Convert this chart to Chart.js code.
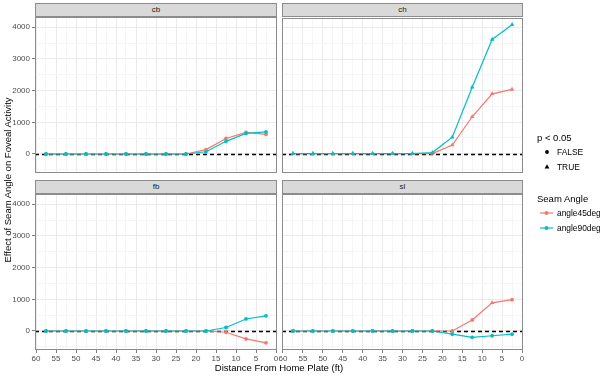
<!DOCTYPE html>
<html><head><meta charset="utf-8">
<script src="https://cdn.jsdelivr.net/npm/chart.js@4/dist/chart.umd.min.js"></script>
<style>
html,body{margin:0;padding:0;background:#fff;}
#wrap{position:relative;width:600px;height:377px;overflow:hidden;font-family:"Liberation Sans",Arial,sans-serif;}
canvas{position:absolute;}
.strip{position:absolute;box-sizing:border-box;background:#D9D9D9;border:1px solid #8C8C8C;font-size:8px;color:#1A1A1A;text-align:center;z-index:3;}
.txt{position:absolute;white-space:nowrap;z-index:4;color:#000;}
</style></head>
<body><div id="wrap"></div>
<script>
// ---- data ----
const distances = [57.5, 52.5, 47.5, 42.5, 37.5, 32.5, 27.5, 22.5, 17.5, 12.5, 7.5, 2.5];
const pitchTypes = ['cb', 'ch', 'fb', 'sl'];
const seriesNames = ['angle45deg', 'angle90deg'];
const cb45 = [0, 0, 0, 0, 0, 0, 0, 0, 140, 490, 680, 620];
const cb90 = [0, 0, 0, 0, 0, 0, 0, 0, 70, 400, 650, 700];
const ch45 = [0, 0, 0, 0, 0, 0, 0, 0, 270, 1170, 1900, 2040];
const ch90 = [0, 0, 0, 0, 0, 0, 0, 30, 520, 2110, 3630, 4100];
const fb45 = [0, 0, 0, 0, 0, 0, 0, 0, 0, -40, -250, -375];
const fb90 = [0, 0, 0, 0, 0, 0, 0, 0, 0, 110, 380, 480];
const sl45 = [0, 0, 0, 0, 0, 0, 0, 0, 0, 350, 890, 990];
const sl90 = [0, 0, 0, 0, 0, 0, 0, 0, -100, -200, -150, -100];
// p < 0.05 flags (true = triangle)
const cb45sig = [false, false, false, false, false, false, false, false, false, false, false, false];
const cb90sig = [false, false, false, false, false, false, false, false, false, false, false, false];
const ch45sig = [true, true, true, true, true, true, true, true, true, true, true, true];
const ch90sig = [true, true, true, true, true, true, true, true, true, true, true, true];
const fb45sig = [false, false, false, false, false, false, false, false, false, false, false, false];
const fb90sig = [false, false, false, false, false, false, false, false, false, false, false, false];
const sl45sig = [false, false, false, false, false, false, false, false, false, false, true, false];
const sl90sig = [false, false, false, false, false, false, false, false, false, false, false, false];
const yMajorTicks = [0, 1000, 2000, 3000, 4000];
const yMinorTicks = [-500, 500, 1500, 2500, 3500];
const xMajorTicks = [0, 5, 10, 15, 20, 25, 30, 35, 40, 45, 50, 55, 60];
const xMinorTicks = [2.5, 7.5, 12.5, 17.5, 22.5, 27.5, 32.5, 37.5, 42.5, 47.5, 52.5, 57.5];
const yTitle = 'Effect of Seam Angle on Foveal Activity';
const xTitle = 'Distance From Home Plate (ft)';

const COL45 = '#F8766D', COL90 = '#00BFC4';
const FONT = '"Liberation Sans", Arial, sans-serif';
const wrap = document.getElementById('wrap');

const zeroLine = {
  id: 'zeroLine',
  beforeDatasetsDraw(chart) {
    const {ctx, chartArea: a, scales: {y}} = chart;
    const py = Math.round(y.getPixelForValue(0)) + 0.5;
    ctx.save();
    ctx.strokeStyle = '#000'; ctx.lineWidth = 1.3; ctx.setLineDash([4, 3]);
    ctx.beginPath(); ctx.moveTo(a.left, py); ctx.lineTo(a.right, py); ctx.stroke();
    ctx.restore();
  }
};
const panelBorder = {
  id: 'panelBorder',
  afterDraw(chart) {
    const {ctx, chartArea: a} = chart;
    ctx.save(); ctx.strokeStyle = '#8C8C8C'; ctx.lineWidth = 1;
    ctx.strokeRect(Math.round(a.left) + 0.5, Math.round(a.top) + 0.5, Math.round(a.right - a.left) - 1, Math.round(a.bottom - a.top) - 1);
    ctx.restore();
  }
};

function ds(label, data, sig, color) {
  return {
    label, data: distances.map((d, i) => ({x: d, y: data[i]})),
    borderColor: color, backgroundColor: color, borderWidth: 1.2,
    pointRadius: ctx => sig[ctx.dataIndex] ? 2.6 : 1.9,
    pointStyle: ctx => sig[ctx.dataIndex] ? 'triangle' : 'circle',
    pointBorderWidth: 0, pointHoverRadius: 2, tension: 0
  };
}

function zeroPad(s) { s.paddingTop = 0; s.paddingBottom = 0; s.paddingLeft = 0; s.paddingRight = 0; }

function makePanel(name, L, T, W, H, showX, showY, d45, s45, d90, s90) {
  const yW = showY ? 35 : 0, xH = showX ? 18 : 0;
  const padL = showY ? 0 : 8, padR = 8, padT = 1, padB = 2;
  const cv = document.createElement('canvas');
  const cw = padL + yW + W + padR, ch = padT + H + xH + padB;
  cv.width = cw; cv.height = ch;
  cv.style.left = (L - yW - padL) + 'px'; cv.style.top = (T - padT) + 'px';
  cv.style.width = cw + 'px'; cv.style.height = ch + 'px';
  wrap.appendChild(cv);
  const strip = document.createElement('div');
  strip.className = 'strip';
  strip.style.left = L + 'px'; strip.style.top = (T - 13) + 'px';
  strip.style.width = W + 'px'; strip.style.height = '14px'; strip.style.lineHeight = '12px';
  strip.textContent = name;
  wrap.appendChild(strip);
  const isMajX = v => xMajorTicks.includes(v);
  const isMajY = v => yMajorTicks.includes(v);
  new Chart(cv, {
    type: 'line',
    data: {datasets: [ds(seriesNames[1], d90, s90, COL90), ds(seriesNames[0], d45, s45, COL45)]},
    options: {
      responsive: false, animation: false, devicePixelRatio: 1,
      layout: {padding: {left: padL, right: padR, top: padT, bottom: padB}},
      plugins: {legend: {display: false}, tooltip: {enabled: false}},
      scales: {
        x: {
          type: 'linear', reverse: true, min: -0.25, max: 60.25, bounds: 'data',
          afterBuildTicks: s => { s.ticks = xMajorTicks.concat(xMinorTicks).sort((a, b) => a - b).map(v => ({value: v})); },
          afterFit: s => { s.height = xH; zeroPad(s); },
          border: {display: false},
          grid: {
            color: c => isMajX(c.tick.value) ? '#EBEBEB' : '#F5F5F5', lineWidth: 1,
            drawTicks: showX, tickLength: 3,
            tickColor: c => isMajX(c.tick.value) ? '#7F7F7F' : 'rgba(0,0,0,0)'
          },
          ticks: {
            display: showX, autoSkip: false, maxRotation: 0, padding: 1,
            color: '#4D4D4D', font: {family: FONT, size: 8},
            callback: v => isMajX(v) ? String(v) : ''
          }
        },
        y: {
          type: 'linear', min: -600, max: 4325, bounds: 'data',
          afterBuildTicks: s => { s.ticks = yMajorTicks.concat(yMinorTicks).sort((a, b) => a - b).map(v => ({value: v})); },
          afterFit: s => { s.width = yW; zeroPad(s); },
          border: {display: false},
          grid: {
            color: c => isMajY(c.tick.value) ? '#EBEBEB' : '#F5F5F5', lineWidth: 1,
            drawTicks: showY, tickLength: 3,
            tickColor: c => isMajY(c.tick.value) ? '#7F7F7F' : 'rgba(0,0,0,0)'
          },
          ticks: {
            display: showY, autoSkip: false, padding: 2,
            color: '#4D4D4D', font: {family: FONT, size: 8},
            callback: v => isMajY(v) ? String(v) : ''
          }
        }
      }
    },
    plugins: [zeroLine, panelBorder]
  });
}

makePanel(pitchTypes[0], 35, 16, 242, 157, false, true, cb45, cb45sig, cb90, cb90sig);
makePanel(pitchTypes[1], 282, 16, 241, 157, false, false, ch45, ch45sig, ch90, ch90sig);
makePanel(pitchTypes[2], 35, 193, 242, 157, true, true, fb45, fb45sig, fb90, fb90sig);
makePanel(pitchTypes[3], 282, 193, 241, 157, true, false, sl45, sl45sig, sl90, sl90sig);

function txt(s, x, y, size, extra) {
  const d = document.createElement('div');
  d.className = 'txt'; d.textContent = s;
  d.style.left = x + 'px'; d.style.top = y + 'px'; d.style.fontSize = size + 'px';
  if (extra) Object.assign(d.style, extra);
  wrap.appendChild(d); return d;
}
// axis titles
txt(xTitle, 279, 362, 9.5, {transform: 'translateX(-50%)', lineHeight: '11px'});
txt(yTitle, -92, 174, 9.5, {width: '200px', height: '12px', lineHeight: '12px', textAlign: 'center', transformOrigin: '100px 6px', transform: 'rotate(-90deg)'});

// legends
txt('p < 0.05', 537, 132, 9.5, {lineHeight: '11px'});
const svgNS = 'http://www.w3.org/2000/svg';
const lg = document.createElementNS(svgNS, 'svg');
lg.setAttribute('width', '30'); lg.setAttribute('height', '100');
lg.style.position = 'absolute'; lg.style.left = '535px'; lg.style.top = '140px';
lg.innerHTML =
  '<circle cx="12" cy="12" r="1.9" fill="#000"/>' +
  '<polygon points="12,24.2 14.4,28.4 9.6,28.4" fill="#000"/>' +
  '<line x1="5" y1="73" x2="18" y2="73" stroke="' + COL45 + '" stroke-width="1.2"/>' +
  '<circle cx="11.5" cy="73" r="1.9" fill="' + COL45 + '"/>' +
  '<line x1="5" y1="88" x2="18" y2="88" stroke="' + COL90 + '" stroke-width="1.2"/>' +
  '<circle cx="11.5" cy="88" r="1.9" fill="' + COL90 + '"/>';
wrap.appendChild(lg);
txt('FALSE', 557, 147, 8.4, {lineHeight: '10px', color: '#000'});
txt('TRUE', 557, 162, 8.4, {lineHeight: '10px', color: '#000'});
txt('Seam Angle', 537, 193, 9.5, {lineHeight: '11px'});
txt(seriesNames[0], 557, 208, 8.4, {lineHeight: '10px'});
txt(seriesNames[1], 557, 223, 8.4, {lineHeight: '10px'});
</script></body></html>
